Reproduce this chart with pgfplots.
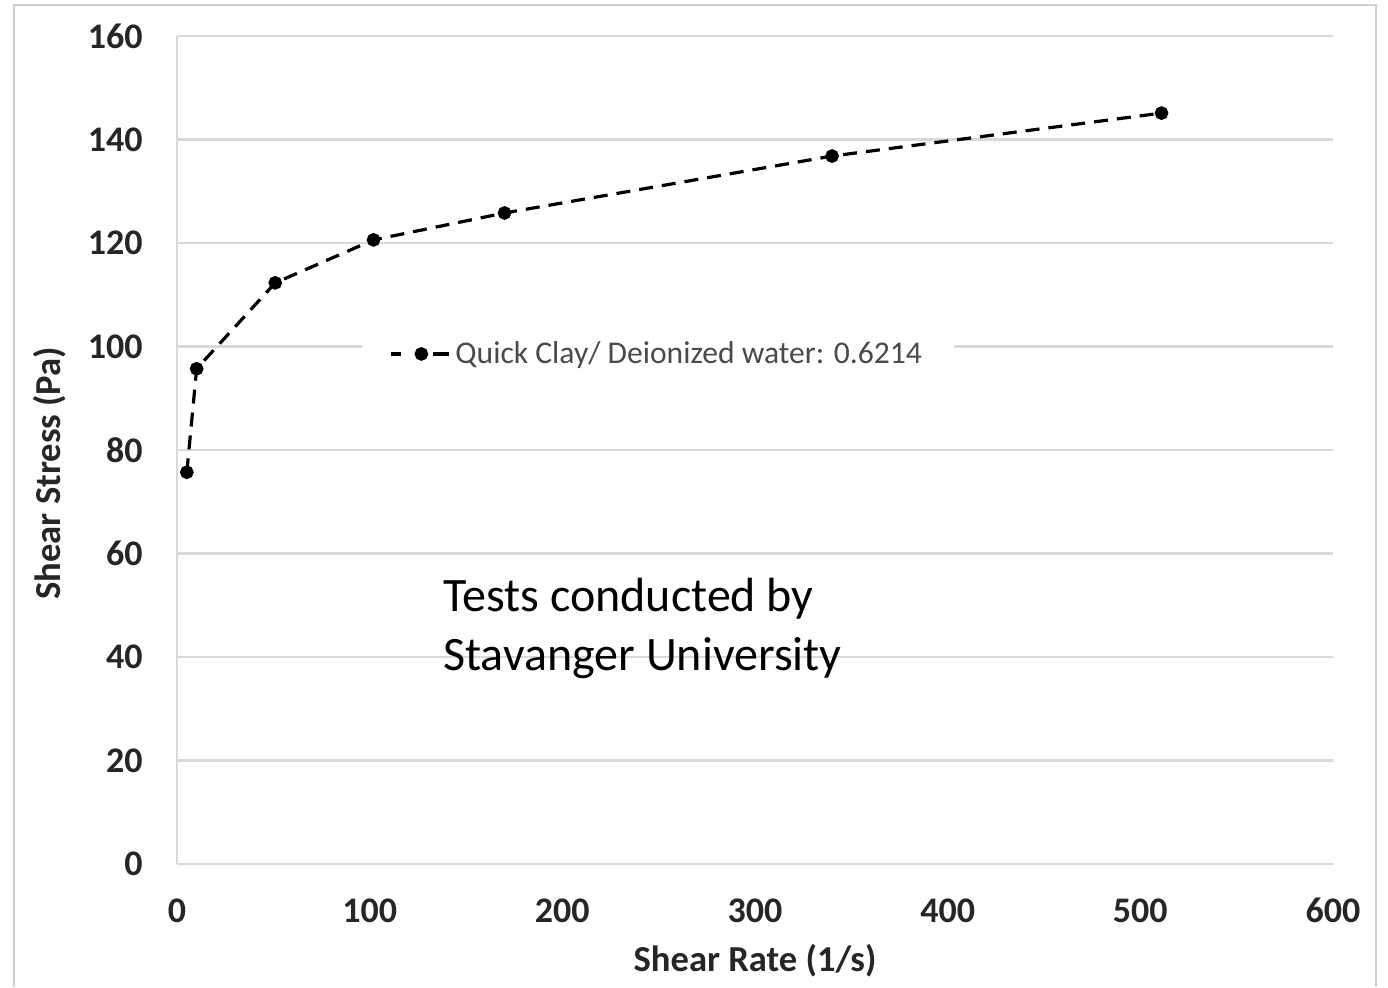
\documentclass[border=0pt]{standalone}
\usepackage{pgfplots}
\pgfplotsset{compat=1.18}
\usepackage{fontspec}
\setmainfont{Carlito}
\definecolor{gridc}{HTML}{D9D9D9}
\definecolor{framec}{HTML}{D0D0D0}
\definecolor{labc}{HTML}{262626}
\definecolor{legc}{HTML}{4A4A4A}
\begin{document}
\begin{tikzpicture}
\path[use as bounding box] (0,0) rectangle (694pt,493.5pt);
\draw[framec, line width=1.2pt] (7pt,0) -- (7pt,491pt) -- (688pt,491pt) -- (688pt,0);
\begin{axis}[
  at={(88.5pt,61.5pt)}, anchor=south west,
  scale only axis, width=578pt, height=414pt,
  xmin=0, xmax=600, ymin=0, ymax=160,
  xtick={0,100,...,600}, ytick={0,20,...,160},
  axis x line=bottom, axis y line=left,
  axis line style={-, gridc, line width=1.2pt},
  ymajorgrids, grid style={gridc, line width=1.2pt},
  major tick length=0pt,
  /pgf/number format/assume math mode=true,
  ticklabel style={font=\bfseries\fontsize{18}{18}\selectfont, text=labc, inner sep=0pt},
  yticklabel style={anchor=east, xshift=-17pt},
  xticklabel style={anchor=north, yshift=-17pt},
  xlabel={Shear Rate (1/s)}, ylabel={Shear Stress (Pa)},
  label style={font=\bfseries\fontsize{18.3}{18.3}\selectfont, text=labc},
  xlabel style={at={(rel axis cs:0.5,0)}, anchor=center, yshift=-48.5pt},
  ylabel style={at={(rel axis cs:0,0.472)}, anchor=center, rotate=0, yshift=63.5pt},
  legend style={at={(rel axis cs:0.416,0.616)}, anchor=center, draw=none, fill=white,
    font=\fontsize{15.8}{15.8}\selectfont, text=legc, inner xsep=14pt, inner ysep=4pt},
  legend image code/.code={
    \draw[#1, dash pattern=on 5pt off 16pt on 8pt off 100pt] (0pt,0pt) -- (29pt,0pt);
    \draw[#1, mark repeat=2, mark phase=2, draw=none] plot coordinates {(0pt,0pt) (15pt,0pt) (30pt,0pt)};},
]
\addplot[black, line width=1.6pt, dash pattern=on 7pt off 4.5pt, mark=*, mark size=2.6pt, mark options={solid, draw=black, fill=black}]
  coordinates {(5.1,75.7) (10.2,95.7) (51,112.3) (102,120.6) (170,125.8) (340,136.8) (511,145.1)};
\addlegendentry{Quick Clay/ Deionized water: 0.6214}
\end{axis}
\node[anchor=base west, inner sep=0pt, font=\fontsize{24}{24}\selectfont] at (221.5pt,187.5pt) {Tests conducted by};
\node[anchor=base west, inner sep=0pt, font=\fontsize{24}{24}\selectfont] at (221.5pt,158.5pt) {Stavanger University};
\end{tikzpicture}
\end{document}
